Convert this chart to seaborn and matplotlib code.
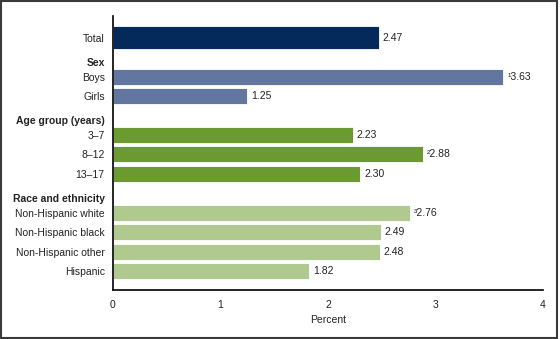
import matplotlib
matplotlib.use("Agg")
import matplotlib.pyplot as plt
from matplotlib.patches import Rectangle
import seaborn as sns
import pandas as pd

# ---- data ----
categories = ["Total", "Sex", "Boys", "Girls", "Age group (years)", "3–7", "8–12", "13–17",
              "Race and ethnicity", "Non-Hispanic white", "Non-Hispanic black",
              "Non-Hispanic other", "Hispanic"]
headers = ["Sex", "Age group (years)", "Race and ethnicity"]
bar_cats = ["Total", "Boys", "Girls", "3–7", "8–12", "13–17",
            "Non-Hispanic white", "Non-Hispanic black", "Non-Hispanic other", "Hispanic"]
values = [2.47, 3.63, 1.25, 2.23, 2.88, 2.30, 2.76, 2.49, 2.48, 1.82]
groups = ["total", "sex", "sex", "age", "age", "age", "race", "race", "race", "race"]
notes = ["", "¹", "", "", "²", "", "³", "", "", ""]
xticks = [0, 1, 2, 3, 4]

palette = {"total": "#032a5a", "sex": "#62779f", "age": "#6b9b30", "race": "#afc98e"}

sns.set_theme(style="white")
plt.rcParams["font.family"] = ["Liberation Sans", "DejaVu Sans"]

df = pd.DataFrame({"cat": bar_cats, "val": values, "grp": groups})

fig = plt.figure(figsize=(5.6, 3.39), dpi=100)
ax = fig.add_axes([113 / 560, 1 - 290 / 339, 430 / 560, 274 / 339])

df_total = df[df["grp"] == "total"]
df_rest = df[df["grp"] != "total"]

sns.barplot(data=df_rest, x="val", y="cat", hue="grp", palette=palette, order=categories,
            orient="h", width=0.82, dodge=False, legend=False, ax=ax, saturation=1,
            edgecolor="white", linewidth=0.6)
sns.barplot(data=df_total, x="val", y="cat", hue="grp", palette=palette, order=categories,
            orient="h", width=1.18, dodge=False, legend=False, ax=ax, saturation=1,
            edgecolor="white", linewidth=0.6)

# value labels
for cat, v, n in zip(bar_cats, values, notes):
    ypos = categories.index(cat)
    ax.annotate(f"{n}{v:.2f}", xy=(v, ypos), xytext=(3, 0), textcoords="offset points",
                ha="left", va="center", fontsize=7.5, color="#222222")

ax.set_xlim(0, 4)
ax.set_ylim(12.98, -1.13)
ax.set_xticks(xticks)
ax.set_xticklabels([str(t) for t in xticks])
ax.set_xlabel("Percent", fontsize=7.5, color="#222222", labelpad=4)
ax.set_ylabel("")

ax.set_yticks(range(len(categories)))
ax.set_yticklabels(["" if c in headers else c for c in categories])
for lbl in ax.get_yticklabels():
    lbl.set_fontsize(7.5)
    lbl.set_color("#222222")

# group headers, slightly lower than the spacer slot
for h in headers:
    ax.annotate(h, xy=(0, categories.index(h)), xytext=(-6, -4), textcoords="offset points",
                ha="right", va="center", fontsize=7.5, fontweight="bold", color="#222222",
                annotation_clip=False)

ax.tick_params(axis="y", length=0, pad=6)
ax.tick_params(axis="x", direction="in", length=5, width=1, color="black",
               labelsize=7.5, labelcolor="#222222", pad=7)

for s in ["top", "right"]:
    ax.spines[s].set_visible(False)
for s in ["left", "bottom"]:
    ax.spines[s].set_color("black")
    ax.spines[s].set_linewidth(1.2)

# figure border
fig.patches.append(Rectangle((0.002, 0.003), 0.993, 0.993, transform=fig.transFigure,
                             fill=False, edgecolor="#3a3a3a", linewidth=1.5))

fig.savefig("out.png", dpi=100)
